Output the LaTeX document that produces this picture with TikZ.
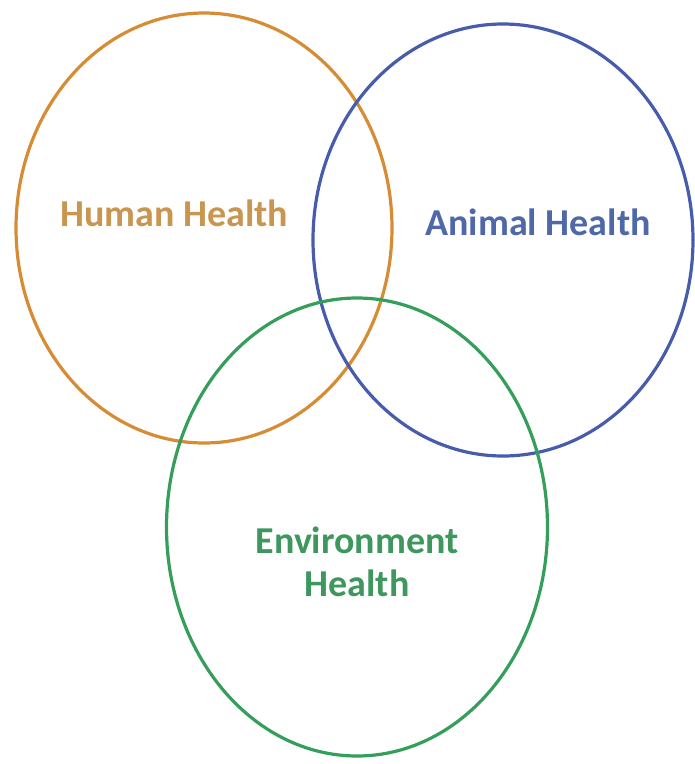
\documentclass[tikz,border=0pt]{standalone}
\usepackage{fontspec}
\setmainfont{Carlito}
\usetikzlibrary{shapes,positioning}

\definecolor{humanring}{RGB}{214,140,52}
\definecolor{humantext}{RGB}{200,150,80}
\definecolor{animalring}{RGB}{72,92,172}
\definecolor{animaltext}{RGB}{78,104,168}
\definecolor{envring}{RGB}{52,158,90}
\definecolor{envtext}{RGB}{62,152,94}

\begin{document}
\begin{tikzpicture}[
    x=1pt, y=-1pt,
    ring/.style={ellipse, draw=#1, line width=3.2pt, inner sep=0pt},
    label/.style={font=\fontsize{38}{43}\selectfont\bfseries, text=#1, align=center, inner sep=0pt}
]
    \useasboundingbox (0,0) rectangle (695,764);

    \node[ring=humanring, minimum width=376pt, minimum height=430pt] (human) at (204,228) {};
    \node[ring=animalring, minimum width=380pt, minimum height=432pt] (animal) at (503,240) {};
    \node[ring=envring, minimum width=381pt, minimum height=458pt] (env) at (357,527) {};

    \node[label=humantext] (humanlbl) at (174,213) {Human Health};
    \node[label=animaltext] (animallbl) at (538,222) {Animal Health};
    \node[label=envtext] (envlbl) at (357,562) {Environment\\Health};
\end{tikzpicture}
\end{document}
